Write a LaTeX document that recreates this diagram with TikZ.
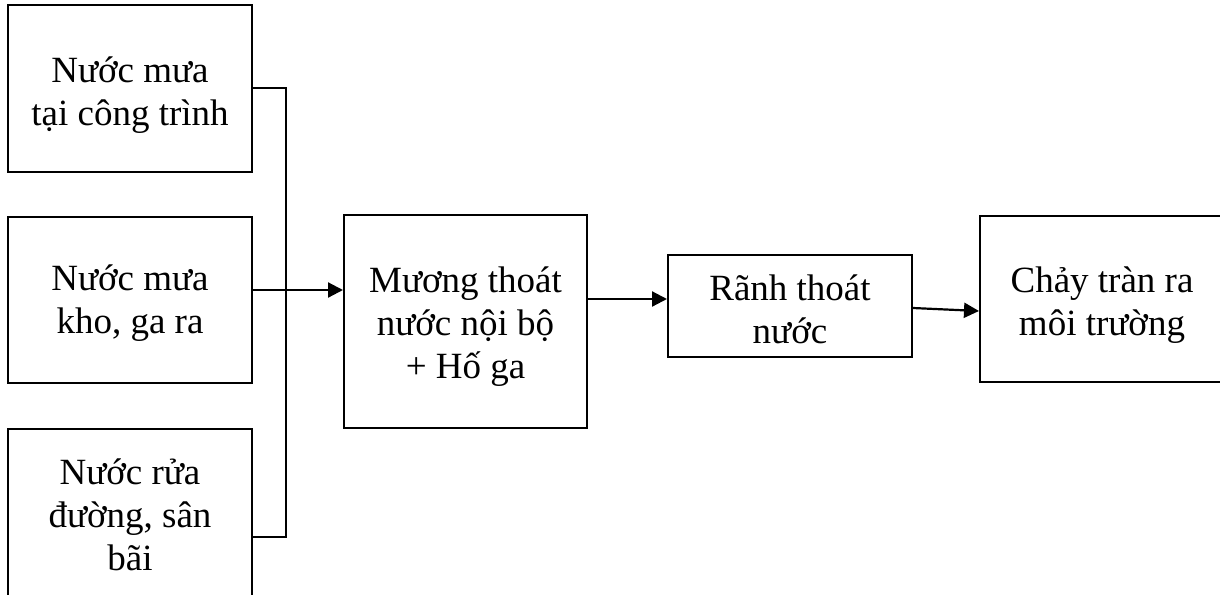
\documentclass[tikz,border=0pt]{standalone}
\usepackage{fontspec}
\setmainfont{Liberation Serif}
\usetikzlibrary{arrows.meta}
\begin{document}
\begin{tikzpicture}[x=1pt,y=1pt,
  box/.style={draw, line width=2pt, inner sep=0pt},
  txt/.style={align=center, inner sep=0pt, font=\fontsize{37}{43}\selectfont},
  conn/.style={line width=2pt},
  arr/.style={line width=2.2pt, -{Triangle[length=15pt,width=15pt]}}]
\useasboundingbox (0,0) rectangle (1220,-594);
\clip (0,0) rectangle (1220,-594);
\node[box, minimum width=244pt, minimum height=167pt] (b1) at (130,-88.5) {};
\node[box, minimum width=244pt, minimum height=166pt] (b2) at (130,-300) {};
\node[box, minimum width=244pt, minimum height=170pt] (b3) at (130,-514) {};
\node[box, minimum width=243pt, minimum height=213pt] (b4) at (465.5,-321.5) {};
\node[box, minimum width=244pt, minimum height=102pt] (b5) at (790,-306) {};
\node[box, minimum width=244pt, minimum height=166pt] (b6) at (1102,-299) {};
\node[txt, yshift=-7pt] (t1) at (b1) {Nước mưa\\tại công trình};
\node[txt, yshift=-3pt] (t2) at (b2) {Nước mưa\\kho, ga ra};
\node[txt, yshift=-1pt] (t3) at (b3) {Nước rửa\\đường, sân\\bãi};
\node[txt, yshift=-5pt] (t4) at (b4) {Mương thoát\\nước nội bộ\\+ Hố ga};
\node[txt, yshift=-3pt] (t5) at (b5) {Rãnh thoát\\nước};
\node[txt, yshift=-6pt] (t6) at (b6) {Chảy tràn ra\\môi trường};
\coordinate (jt) at (286,-88);
\coordinate (jb) at (286,-537);
\coordinate (y1) at (0,-290);
\coordinate (y2) at (0,-299);
\coordinate (y3a) at (0,-308);
\coordinate (y3b) at (0,-311);
\draw[conn] (b1.east |- jt) -- (jt) -- (jb) -- (b3.east |- jb);
\draw[arr] (b2.east |- y1) -- (b4.west |- y1);
\draw[arr] (b4.east |- y2) -- (b5.west |- y2);
\draw[arr] (b5.east |- y3a) -- (b6.west |- y3b);
\end{tikzpicture}
\end{document}
